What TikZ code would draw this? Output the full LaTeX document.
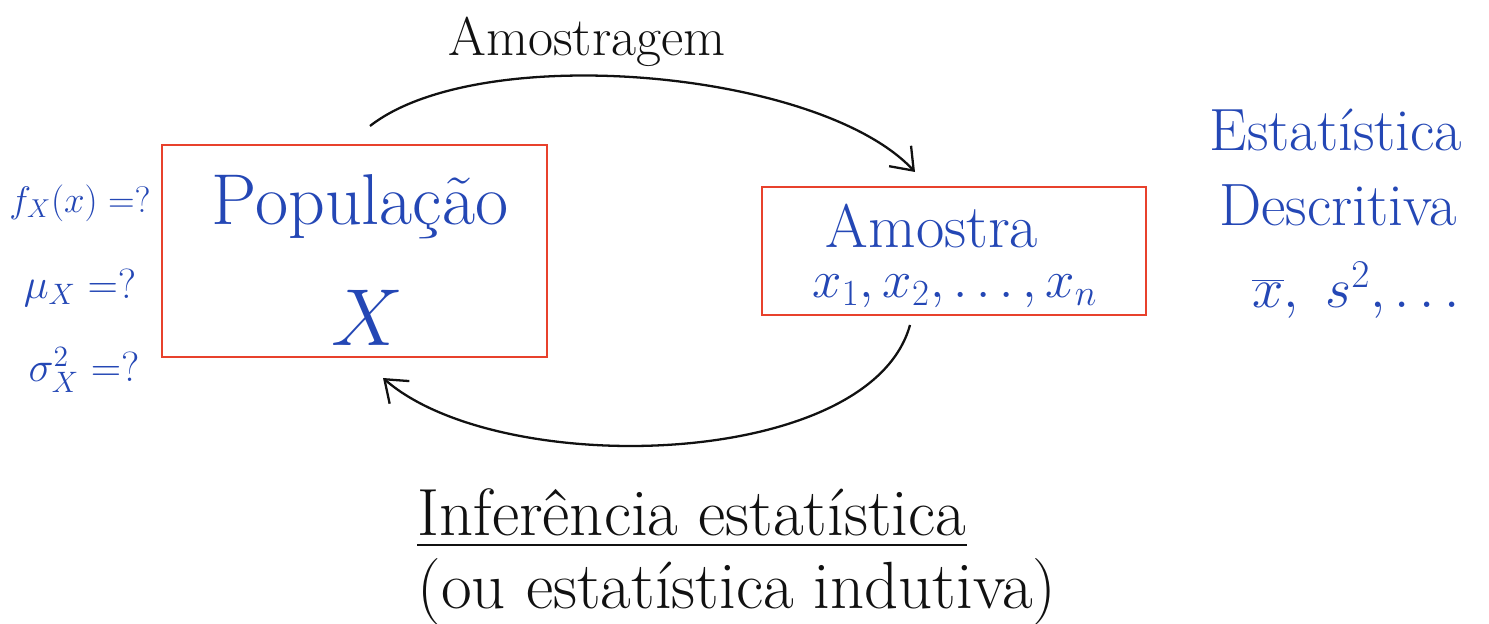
\RequirePackage{fix-cm}
\documentclass[tikz,border=0pt]{standalone}
\usepackage{xcolor}
\usetikzlibrary{arrows.meta}
\definecolor{boxred}{HTML}{E8412C}
\definecolor{inkblue}{HTML}{2447B5}
\definecolor{inkblack}{HTML}{111111}

\begin{document}
\begin{tikzpicture}[x=0.02cm,y=-0.02cm,
    every node/.style={inner sep=1pt},
    box/.style={draw=boxred,line width=1.5pt},
    bluetext/.style={text=inkblue},
    fsize/.style={font=\fontsize{#1}{#1}\selectfont},
    arr/.style={draw=inkblack,line width=1.3pt,-{Straight Barb[length=4mm,width=6mm]}}]
    \useasboundingbox (0,0) rectangle (1489,624);
    % boxes
    \node[box,minimum width=7.7cm,minimum height=4.24cm] (pop) at (354.5,251) {};
    \node[box,minimum width=7.68cm,minimum height=2.56cm] (amo) at (954,251) {};
    \node[bluetext,fsize=41] (poptitle) at (360,207) {População};
    \node[bluetext,fsize=46] (popvar) at (368,318) {$X$};
    \node[bluetext,fsize=35] (amotitle) at (932,226) {Amostra};
    \node[bluetext,fsize=30] (amovals) at (955,291) {$x_1, x_2, \ldots, x_n$};
    % parameters
    \node[bluetext,fsize=21] (dens) at (80,203) {$f_X(x)=?$};
    \node[bluetext,fsize=24] (media) at (80,288) {$\mu_X=?$};
    \node[bluetext,fsize=24] (vari) at (84,370) {$\sigma_X^2=?$};
    % descriptive
    \node[bluetext,fsize=34] (desc1) at (1336,130) {Estatística};
    \node[bluetext,fsize=34] (desc2) at (1338,205) {Descritiva};
    \node[bluetext,fsize=32] (desc3) at (1356,290) {$\overline{x},\ s^2, \ldots$};
    % arrows
    \coordinate (topstart) at (370,126);
    \coordinate (topend) at (915,172);
    \coordinate (botstart) at (910,325);
    \coordinate (botend) at (383,378);
    \draw[arr] (topstart) .. controls (480,40) and (820,70) .. (topend);
    \draw[arr] (botstart) .. controls (870,470) and (500,480) .. (botend);
    \node[text=inkblack,fsize=31] (amostragem) at (587,42) {Amostragem};
    % inference
    \node[text=inkblack,fsize=38,inner sep=0pt] (infer) at (692,512) {Inferência estatística};
    \draw[inkblack,line width=1.3pt] ([yshift=-5pt]infer.south west) -- ([yshift=-5pt]infer.south east);
    \node[text=inkblack,fsize=38] (indut) at (737,592) {(ou estatística indutiva)};
\end{tikzpicture}
\end{document}
